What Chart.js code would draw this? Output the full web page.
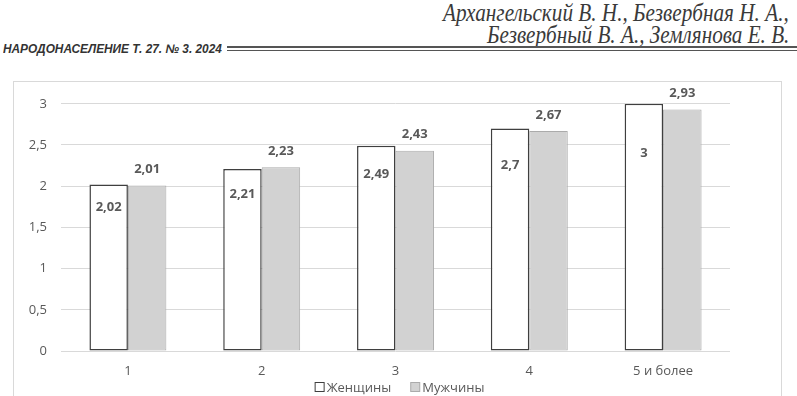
<!DOCTYPE html>
<html lang="ru">
<head>
<meta charset="utf-8">
<script src="https://cdn.jsdelivr.net/npm/chart.js@4.4.1/dist/chart.umd.min.js"></script>
<style>
  html, body { margin: 0; padding: 0; background: #fff; overflow: hidden; width: 797px; height: 396px; }
  .hdr { position: absolute; white-space: nowrap; color: #3a3a3a; }
  .authors { font-family: "Liberation Serif", serif; font-style: italic; font-size: 26px; line-height: 26px; right: 8px; transform-origin: right center; }
  #runhead { left: 3px; top: 43px; font-family: "Liberation Sans", sans-serif; font-weight: bold; font-style: italic; font-size: 12.5px; line-height: 12.5px; transform-origin: left center; color: #333; }
  .rule { position: absolute; left: 227px; right: 0; height: 1.5px; background: #555; }
  #frame { position: absolute; left: 13px; top: 81px; width: 767px; height: 330px; border: 1px solid #d9d9d9; }
  #wrap { position: absolute; left: 14px; top: 82px; width: 767px; height: 314px; }
</style>
</head>
<body>
<div class="hdr authors" id="a1" style="top:0px">Архангельский В. Н., Безвербная Н. А.,</div>
<div class="hdr authors" id="a2" style="top:22px">Безвербный В. А., Землянова Е. В.</div>
<div class="hdr" id="runhead">НАРОДОНАСЕЛЕНИЕ Т. 27. № 3. 2024</div>
<div class="rule" style="top:46px"></div>
<div class="rule" style="top:49.5px"></div>
<div id="frame"></div>
<div id="wrap"><canvas id="chart"></canvas></div>
<script>
// number of children groups
const categories = ['1', '2', '3', '4', '5 и более'];
const women = [2.02, 2.21, 2.49, 2.7, 3];
const men = [2.01, 2.23, 2.43, 2.67, 2.93];
const seriesNames = ['Женщины', 'Мужчины'];
const yTicks = [0, 0.5, 1, 1.5, 2, 2.5, 3];

// label drops inside the women bars (px below bar top), as placed in the source
const womenLabelDrop = [23, 25, 28, 37, 49];

const fmt = v => String(v).replace('.', ',');
const FONT = '"Open Sans", sans-serif';

// fit header lines to their widths in the page
function fitWidth(id, target) {
  const el = document.getElementById(id);
  el.style.transform = 'scaleX(' + (target / el.scrollWidth) + ')';
}
fitWidth('a1', 346);
fitWidth('a2', 302);
fitWidth('runhead', 219);

const valueLabels = {
  id: 'valueLabels',
  afterDatasetsDraw(chart) {
    const ctx = chart.ctx;
    ctx.save();
    ctx.font = 'bold 13px ' + FONT;
    ctx.fillStyle = '#595959';
    ctx.textAlign = 'center';
    ctx.textBaseline = 'middle';
    chart.data.datasets.forEach((ds, di) => {
      chart.getDatasetMeta(di).data.forEach((bar, i) => {
        const y = di === 0 ? bar.y + womenLabelDrop[i] : bar.y - 16;
        ctx.fillText(fmt(ds.data[i]), bar.x, y);
      });
    });
    ctx.restore();
  }
};

// compact legend under the axis labels (Excel style spacing)
const bottomLegend = {
  id: 'bottomLegend',
  afterDraw(chart) {
    const ctx = chart.ctx;
    const box = 9, gapText = 3, gapItem = 19;
    ctx.save();
    ctx.font = '13px ' + FONT;
    ctx.textBaseline = 'middle';
    const items = chart.data.datasets.map(ds => ({ ds, w: box + gapText + ctx.measureText(ds.label).width }));
    const total = items.reduce((s, it) => s + it.w, 0) + gapItem * (items.length - 1);
    let x = chart.width / 2 + 2 - total / 2;
    const y = chart.chartArea.bottom + 36;
    items.forEach(({ ds, w }) => {
      ctx.fillStyle = ds.backgroundColor;
      ctx.strokeStyle = ds.borderColor;
      ctx.lineWidth = 1;
      ctx.fillRect(x + 0.5, y - 4.5, box, box);
      ctx.strokeRect(x + 0.5, y - 4.5, box, box);
      ctx.fillStyle = '#595959';
      ctx.fillText(ds.label, x + box + gapText, y + 1);
      x += w + gapItem;
    });
    ctx.restore();
  }
};

new Chart(document.getElementById('chart'), {
  type: 'bar',
  data: {
    labels: categories,
    datasets: [{
      label: seriesNames[0],
      data: women,
      backgroundColor: '#ffffff',
      borderColor: '#3f3f3f',
      borderWidth: 1.5,
      borderSkipped: false
    }, {
      label: seriesNames[1],
      data: men,
      backgroundColor: '#d2d2d2',
      borderColor: '#ababab',
      borderWidth: 1,
      borderSkipped: false
    }]
  },
  options: {
    responsive: true, maintainAspectRatio: false, animation: false,
    layout: { padding: { top: 21, right: 51, left: 0, bottom: 15 } },
    datasets: { bar: { categoryPercentage: 0.575, barPercentage: 1 } },
    plugins: {
      tooltip: { enabled: false },
      legend: { display: false }
    },
    scales: {
      x: {
        grid: { display: false, drawTicks: false },
        border: { display: false },
        ticks: { color: '#595959', font: { family: 'Open Sans', size: 13 }, padding: 12 },
        afterFit: s => { s.height = 30; }
      },
      y: {
        min: 0, max: 3,
        afterBuildTicks: s => { s.ticks = yTicks.map(v => ({ value: v })); },
        grid: { color: '#d9d9d9', drawTicks: false },
        border: { display: false },
        ticks: { color: '#595959', font: { family: 'Open Sans', size: 13 }, padding: 14, callback: v => fmt(v) },
        afterFit: s => { s.width = 47; }
      }
    }
  },
  plugins: [valueLabels, bottomLegend]
});
</script>
</body>
</html>
